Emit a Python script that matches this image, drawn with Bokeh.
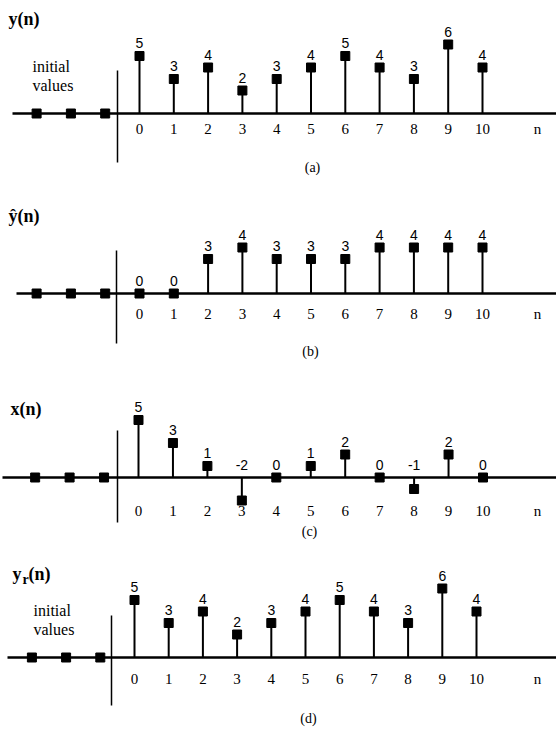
from bokeh.plotting import figure
from bokeh.layouts import column
from bokeh.models import Label
from bokeh.core.properties import value
from bokeh.embed import file_html
from bokeh.resources import INLINE

# ---- data ----
n = list(range(11))
n_init = [-3, -2, -1]
init_vals = [0, 0, 0]
y_a = [5, 3, 4, 2, 3, 4, 5, 4, 3, 6, 4]
y_hat = [0, 0, 3, 4, 3, 3, 3, 4, 4, 4, 4]
x_c = [5, 3, 1, -2, 0, 1, 2, 0, -1, 2, 0]
y_r = [5, 3, 4, 2, 3, 4, 5, 4, 3, 6, 4]
tick_labels = [str(i) for i in n]

W = 556
SY = 11.5  # px per unit

SERIF = "Liberation Serif"
SANS = "Liberation Sans"
SANS_V = value(SANS)
SERIF_V = value(SERIF)


def lab(p, x, y, text, size, align="center", bold=False, y_offset=0):
    p.add_layout(Label(x=x, y=y, text=text, text_align=align, text_baseline="middle",
                       y_offset=y_offset, text_font=SERIF, text_font_size=size,
                       text_color="black", text_font_style="bold" if bold else "normal"))


def panel(h, x0_px, sp, base_px, vals, axis_from_px, vline_px, vline_top, vline_bot,
          tick_off, caption, cap_xy, title_fn, title_xy, initial_text=None):
    xs = -x0_px / sp
    xe = (W - x0_px) / sp
    ye = base_px / SY
    ys = -(h - base_px) / SY
    p = figure(width=W, height=h, x_range=(xs, xe), y_range=(ys, ye),
               output_backend="svg", toolbar_location=None, min_border=0)
    p.axis.visible = False
    p.grid.visible = False
    p.outline_line_color = None
    p.background_fill_color = "white"

    def X(px):
        return xs + px / sp

    def Y(py):
        return ye - py / SY

    # horizontal axis
    p.segment(x0=[X(axis_from_px)], y0=[0], x1=[X(W)], y1=[0], line_color="black", line_width=2.5)
    # vertical axis
    p.segment(x0=[X(vline_px)], y0=[Y(vline_top)], x1=[X(vline_px)], y1=[Y(vline_bot)],
              line_color="black", line_width=1.5)
    # initial values dots
    p.scatter(n_init, init_vals, marker="square", size=9, color="black")
    # stems
    p.segment(x0=n, y0=[0] * len(n), x1=n, y1=vals, line_color="black", line_width=2)
    p.scatter(n, vals, marker="square", size=9, color="black")
    # value labels
    lab_y = [max(v, 0) for v in vals]
    p.text(x=n, y=lab_y, text=[str(v) for v in vals], text_align="center",
           text_baseline="bottom", y_offset=-8, text_font_size="14px",
           text_font=SANS_V, text_color="black")
    # tick labels
    p.text(x=n, y=[0] * len(n), text=tick_labels, text_align="center",
           text_baseline="middle", y_offset=tick_off, text_font_size="15px",
           text_font=SERIF_V, text_color="black")
    # n label
    lab(p, X(537), 0, "n", "15px", y_offset=-tick_off)
    # caption
    lab(p, X(cap_xy[0]), Y(cap_xy[1]), caption, "14px")
    title_fn(p, X, Y, title_xy)
    if initial_text:
        for t, py in zip(["initial", "values"], initial_text[1]):
            lab(p, X(initial_text[0]), Y(py), t, "16px", align="left")
    return p


def simple_title(txt):
    def f(p, X, Y, xy):
        lab(p, X(xy[0]), Y(xy[1]), txt, "18px", align="left", bold=True)
    return f


def yr_title(p, X, Y, xy):
    lab(p, X(xy[0]), Y(xy[1]), "y", "18px", align="left", bold=True)
    lab(p, X(xy[0] + 10), Y(xy[1] + 6), "r", "14px", align="left", bold=True)
    lab(p, X(xy[0] + 16), Y(xy[1]), "(n)", "18px", align="left", bold=True)


pa = panel(180, 139, 34.3, 113, y_a, 12, 117, 70, 162, 15, "(a)", (312, 167),
           simple_title("y(n)"), (8, 18), initial_text=(32, [66, 85]))
pb = panel(180, 139, 34.3, 113, y_hat, 16, 116, 70, 163, 20, "(b)", (310, 171),
           simple_title("\u0177(n)"), (8, 35))
pc = panel(180, 138, 34.45, 117, x_c, 2, 117, 70, 162, 33, "(c)", (309, 171),
           simple_title("x(n)"), (10, 48))
pd = panel(189, 134, 34.2, 117, y_r, 7, 111, 75, 165, 21, "(d)", (308, 178),
           yr_title, (12, 33), initial_text=(33, [70, 89]))

layout = column(pa, pb, pc, pd, spacing=0)
open("out.html", "w").write(file_html(layout, INLINE))
